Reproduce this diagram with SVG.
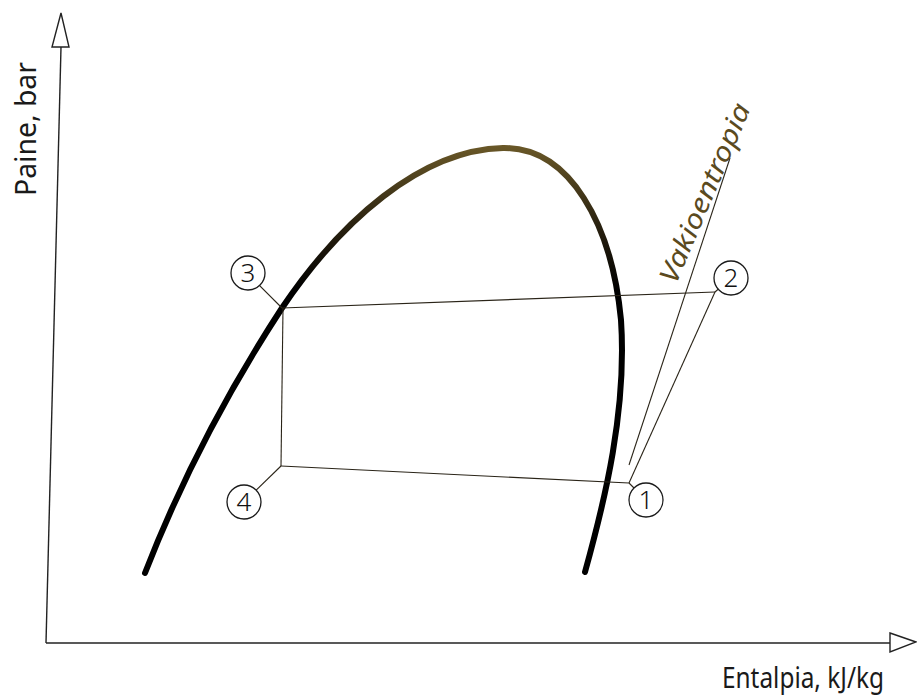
<svg xmlns="http://www.w3.org/2000/svg" width="917" height="698" viewBox="0 0 917 698">
  <defs>
    <style>
      .ax { fill: none; stroke: #222; stroke-width: 1.4; }
      .head { fill: #fff; stroke: #222; stroke-width: 1.4; stroke-linejoin: miter; }
      .thin { fill: none; stroke: #2a2418; stroke-width: 1.1; }
      .circ { fill: #fff; stroke: #1a1a1a; stroke-width: 1.3; }
      .num { font-family: "Noto Sans", "Open Sans", sans-serif; font-size: 26px; fill: #111; text-anchor: middle; font-weight: 300; }
      .axlab { font-family: "Noto Sans", "Open Sans", sans-serif; font-size: 29px; fill: #1a1a1a; }
      .vak { font-family: "Noto Sans", "Open Sans", sans-serif; font-size: 27px; font-style: italic; fill: #5b4a1e; }
    </style>
    <linearGradient id="curveGrad" gradientUnits="userSpaceOnUse" x1="0" y1="145" x2="0" y2="290">
      <stop offset="0" stop-color="#6a5828"/>
      <stop offset="0.55" stop-color="#2a2210"/>
      <stop offset="1" stop-color="#000"/>
    </linearGradient>
  </defs>
  <rect width="917" height="698" fill="#fff"/>

  <g id="axes">
    <line class="ax" x1="61" y1="47" x2="46" y2="643"/>
    <polygon class="head" points="61,13 52,47 69,47"/>
    <line class="ax" x1="46" y1="643" x2="890" y2="643"/>
    <polygon class="head" points="890,633 916,642 890,652"/>
    <text class="axlab" transform="translate(36,196) rotate(-90)" textLength="134" lengthAdjust="spacingAndGlyphs">Paine, bar</text>
    <text class="axlab" x="722" y="688" textLength="162" lengthAdjust="spacingAndGlyphs">Entalpia, kJ/kg</text>
  </g>

  <g id="saturation-curve">
    <path d="M145,573 C185,470 235,380 282,308 C340,222 420,150 503,148 C570,147 612,225 621,320 C627,410 605,500 585,572" fill="none" stroke="url(#curveGrad)" stroke-width="6" stroke-linecap="round"/>
  </g>

  <g id="connectors">
    <line class="thin" x1="282" y1="308" x2="715" y2="292"/>
    <line class="thin" x1="283" y1="308" x2="281" y2="466"/>
    <line class="thin" x1="281" y1="466" x2="629" y2="483"/>
    <line class="thin" x1="629" y1="483" x2="715" y2="292"/>
    <line class="thin" x1="629" y1="465" x2="730" y2="158"/>
    <line class="thin" x1="282" y1="308" x2="248" y2="274"/>
    <line class="thin" x1="281" y1="466" x2="244" y2="502"/>
    <line class="thin" x1="629" y1="483" x2="646" y2="500"/>
    <line class="thin" x1="715" y1="292" x2="731" y2="278"/>
  </g>

  <g id="node-3">
    <circle class="circ" cx="248" cy="273" r="17"/>
    <text class="num" x="248" y="282">3</text>
  </g>
  <g id="node-4">
    <circle class="circ" cx="244" cy="502" r="17"/>
    <text class="num" x="244" y="511">4</text>
  </g>
  <g id="node-1">
    <circle class="circ" cx="646" cy="500" r="17"/>
    <text class="num" x="646" y="509">1</text>
  </g>
  <g id="node-2">
    <circle class="circ" cx="731" cy="278" r="17"/>
    <text class="num" x="731" y="287">2</text>
  </g>

  <g id="label-vakioentropia">
    <text class="vak" transform="translate(676,285) rotate(-67)" textLength="192" lengthAdjust="spacingAndGlyphs">Vakioentropia</text>
  </g>
</svg>
